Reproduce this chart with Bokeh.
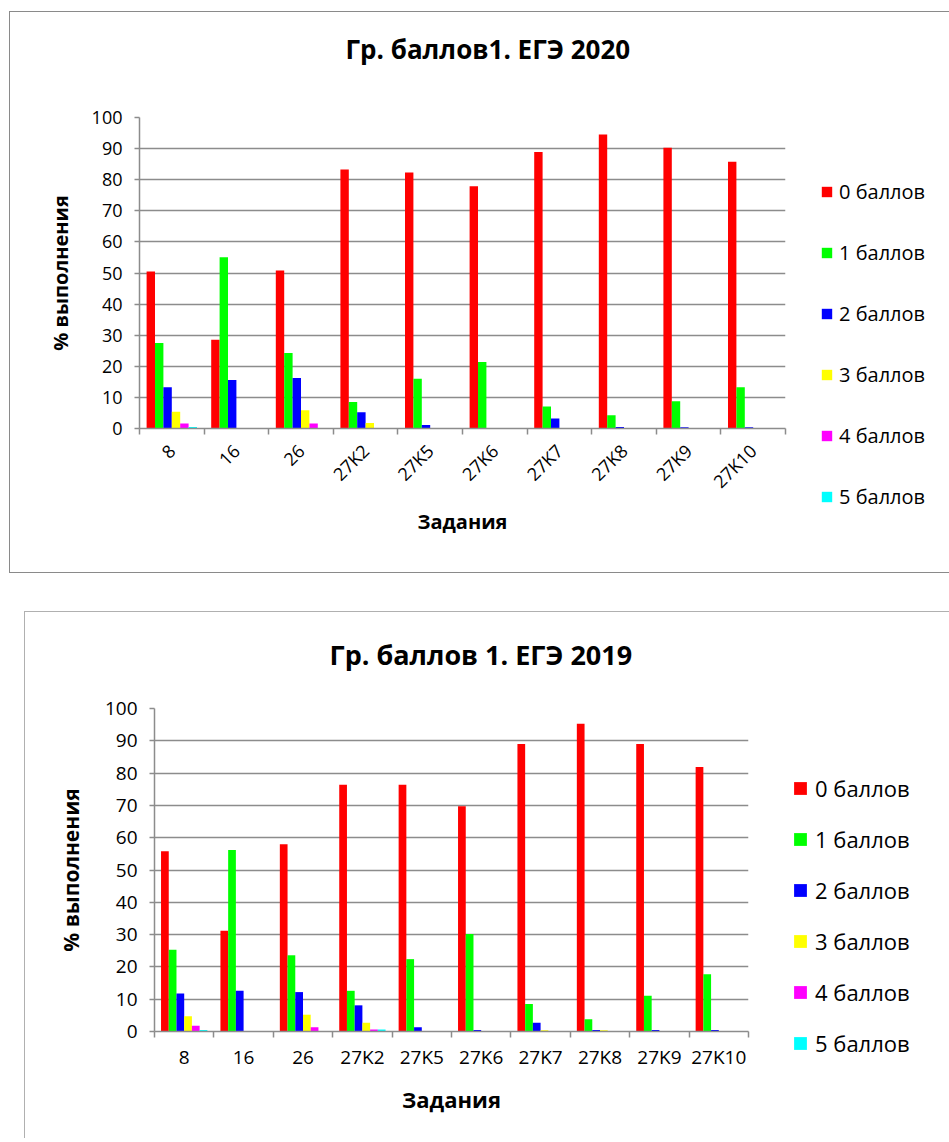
import math
import numpy as np
from bokeh.plotting import figure
from bokeh.models import (ColumnDataSource, Range1d, FixedTicker, Legend, LegendItem, LinearAxis)
from bokeh.transform import dodge
from bokeh.layouts import column
from bokeh.embed import file_html
from bokeh.resources import INLINE

# ---------------- data ----------------
categories = ["8", "16", "26", "27K2", "27K5", "27K6", "27K7", "27K8", "27K9", "27K10"]
series_names = ["0 баллов", "1 баллов", "2 баллов", "3 баллов", "4 баллов", "5 баллов"]
series_colors = ["#FF0000", "#00FF00", "#0000FF", "#FFFF00", "#FF00FF", "#00FFFF"]
y_ticks = [0, 10, 20, 30, 40, 50, 60, 70, 80, 90, 100]

# ЕГЭ 2020
b0_2020 = [50.5, 28.5, 50.8, 83.3, 82.3, 77.9, 88.9, 94.5, 90.3, 85.8]
b1_2020 = [27.5, 55.1, 24.3, 8.5, 16.0, 21.4, 7.1, 4.3, 8.8, 13.3]
b2_2020 = [13.3, 15.6, 16.2, 5.2, 1.1, 0.1, 3.2, 0.5, 0.4, 0.4]
b3_2020 = [5.4, 0, 5.9, 1.8, 0, 0, 0, 0, 0, 0]
b4_2020 = [1.6, 0, 1.6, 0, 0, 0, 0, 0, 0, 0]
b5_2020 = [0.5, 0, 0, 0, 0, 0, 0, 0, 0, 0]

# ЕГЭ 2019
b0_2019 = [55.8, 31.2, 58.0, 76.4, 76.4, 69.7, 89.0, 95.3, 89.0, 81.9]
b1_2019 = [25.3, 56.2, 23.6, 12.6, 22.4, 30.2, 8.5, 3.8, 11.1, 17.7]
b2_2019 = [11.8, 12.6, 12.2, 8.1, 1.3, 0.5, 2.7, 0.5, 0.5, 0.5]
b3_2019 = [4.7, 0, 5.2, 2.7, 0, 0, 0.4, 0.4, 0, 0]
b4_2019 = [1.8, 0, 1.3, 0.6, 0, 0, 0, 0, 0, 0]
b5_2019 = [0.5, 0, 0, 0.6, 0, 0, 0, 0, 0, 0]

FONT = "Open Sans"
GRID = "#8c8c8c"


def make_chart(title, series, cfg):
    n = len(categories)
    centers = [i + 0.5 for i in range(n)]
    data = {"x": centers}
    for j, vals in enumerate(series):
        data[f"s{j}"] = vals
    src = ColumnDataSource(data)

    p = figure(frame_width=cfg["fw"], frame_height=cfg["fh"],
               min_border_left=cfg["bl"], min_border_right=cfg["br"],
               min_border_top=cfg["bt"], min_border_bottom=cfg["bb"],
               x_range=Range1d(0, n), y_range=Range1d(0, 100),
               output_backend="svg", toolbar_location=None,
               margin=cfg["margin"], styles=cfg["styles"])
    p.outline_line_color = None
    p.background_fill_color = "white"
    p.border_fill_color = "white"

    xa = p.below[0]
    ya = p.left[0]

    # blank spacer axis between the title and the plot area (one white tick, no label)
    gap_axis = LinearAxis(ticker=FixedTicker(ticks=[0]), major_tick_out=cfg["title_gap"],
                          major_tick_in=0, major_tick_line_color="white",
                          minor_tick_line_color=None, minor_tick_out=0, minor_tick_in=0,
                          axis_line_color=None, major_label_overrides={0: ""},
                          major_label_text_font_size="1px", major_label_standoff=0)
    p.add_layout(gap_axis, "above")

    p.title.text = title
    p.title.text_font = FONT
    p.title.text_font_size = cfg["title_size"]
    p.title.text_font_style = "bold"
    p.title.text_color = "black"
    p.title.align = "left"
    p.title.offset = cfg["title_offset"]
    p.title.standoff = 10

    bw = 0.13
    items = []
    k = len(series)
    for j in range(k):
        off = (j - (k - 1) / 2) * bw
        r = p.vbar(x=dodge("x", off), top=f"s{j}", width=bw, source=src,
                   fill_color=series_colors[j], line_color=None)
        items.append(LegendItem(label=series_names[j], renderers=[r]))

    leg = Legend(items=items, location=cfg["leg_loc"], padding=0, margin=0,
                 border_line_color=None, background_fill_alpha=0,
                 glyph_width=cfg["glyph"], glyph_height=cfg["glyph"],
                 label_height=cfg["glyph"], label_standoff=cfg["leg_standoff"],
                 spacing=cfg["leg_spacing"],
                 label_text_font=FONT, label_text_font_size=cfg["leg_size"],
                 label_text_color="black")
    p.add_layout(leg, "right")

    # x axis: labels at centres, ticks at category boundaries
    xa.ticker = FixedTicker(ticks=centers, minor_ticks=list(range(n + 1)))
    xa.major_label_overrides = {c: name for c, name in zip(centers, categories)}
    xa.major_tick_line_color = None
    xa.major_tick_in = 0
    xa.major_tick_out = 6
    xa.minor_tick_line_color = GRID
    xa.minor_tick_line_width = 1.5
    xa.minor_tick_in = 0
    xa.minor_tick_out = 6
    xa.axis_line_color = GRID
    xa.axis_line_width = 1.5
    xa.major_label_text_font = FONT
    xa.major_label_text_font_size = cfg["xtick_size"]
    xa.major_label_text_color = "black"
    xa.major_label_standoff = cfg["xtick_standoff"]
    if cfg["rotate"]:
        xa.major_label_orientation = math.pi / 4
    xa.axis_label = "Задания"
    xa.axis_label_text_font = FONT
    xa.axis_label_text_font_size = cfg["xlabel_size"]
    xa.axis_label_text_font_style = "bold"
    xa.axis_label_text_color = "black"
    xa.axis_label_standoff = cfg["xlabel_standoff"]
    p.xgrid.visible = False

    ya.ticker = FixedTicker(ticks=y_ticks)
    ya.minor_tick_line_color = None
    ya.major_tick_in = 0
    ya.major_tick_out = 5
    ya.major_tick_line_color = GRID
    ya.major_tick_line_width = 1.5
    ya.axis_line_color = GRID
    ya.axis_line_width = 1.5
    ya.major_label_text_font = FONT
    ya.major_label_text_font_size = cfg["ytick_size"]
    ya.major_label_text_color = "black"
    ya.major_label_standoff = 12
    ya.axis_label = "% выполнения"
    ya.axis_label_text_font = FONT
    ya.axis_label_text_font_size = cfg["ylabel_size"]
    ya.axis_label_text_font_style = "bold"
    ya.axis_label_text_color = "black"
    ya.axis_label_standoff = cfg["ylabel_standoff"]
    p.ygrid.grid_line_color = GRID
    p.ygrid.grid_line_width = 1.5
    p.ygrid.ticker = FixedTicker(ticks=y_ticks)
    return p


cfg1 = dict(fw=645, fh=309, bl=123, br=163, bt=105, bb=146,
            margin=(11, 0, 0, 9),
            styles={"border-left": "1.5px solid #8a8a8a", "border-top": "1.5px solid #8a8a8a",
                    "border-bottom": "1.5px solid #8a8a8a"},
            title_size="26px", title_offset=206, title_gap=46,
            glyph=13, leg_standoff=6, leg_spacing=34, leg_size="20px",
            leg_loc=(35, -82),
            xtick_size="18px", xtick_standoff=13, rotate=True,
            xlabel_size="20px", xlabel_standoff=4,
            ytick_size="18px", ylabel_size="20px", ylabel_standoff=15)

cfg2 = dict(fw=592, fh=322, bl=129, br=196, bt=96, bb=108,
            margin=(38, 0, 0, 24),
            styles={"border-left": "1.5px solid #b0b0b0", "border-top": "1.5px solid #b0b0b0",
                    "border-right": "1.5px solid #8a8a8a"},
            title_size="27px", title_offset=175, title_gap=31,
            glyph=16, leg_standoff=7, leg_spacing=21, leg_size="22px",
            leg_loc=(44, -27),
            xtick_size="19px", xtick_standoff=6, rotate=False,
            xlabel_size="22px", xlabel_standoff=11,
            ytick_size="19px", ylabel_size="21px", ylabel_standoff=17)

p1 = make_chart("Гр. баллов1. ЕГЭ 2020",
                [b0_2020, b1_2020, b2_2020, b3_2020, b4_2020, b5_2020], cfg1)
p2 = make_chart("Гр. баллов 1. ЕГЭ 2019",
                [b0_2019, b1_2019, b2_2019, b3_2019, b4_2019, b5_2019], cfg2)

layout = column(p1, p2)
open("out.html", "w").write(file_html(layout, INLINE))
